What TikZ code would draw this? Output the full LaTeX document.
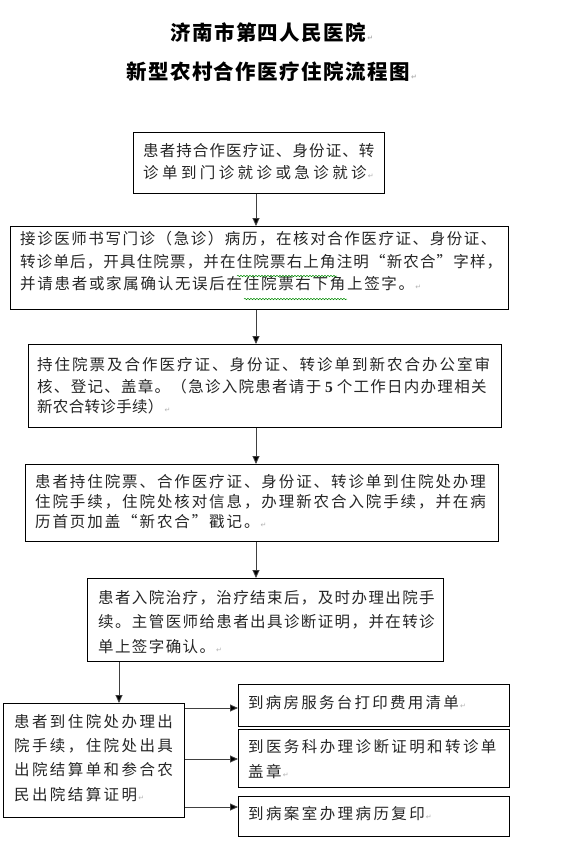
\documentclass[tikz,border=0pt]{standalone}
\usepackage{fontspec}
\setmainfont{Liberation Serif}
\newfontfamily\cjk{Noto Sans CJK SC}
\newfontfamily\symf{DejaVu Sans}
\usetikzlibrary{arrows.meta,decorations.pathmorphing}
\newcommand\pmark{{\symf\fontsize{7}{7}\selectfont\color{gray!60}\,↵}}
\tikzset{
  box/.style={draw=black, line width=0.9pt, anchor=north west, inner sep=0pt},
  ln/.style={anchor=west, inner sep=0pt, text height=12pt, text depth=2pt, text=black!85,
    font=\cjk\fontsize{15.5}{15.5}\selectfont\addfontfeature{LetterSpace=#1}},
  ttl/.style={anchor=west, inner sep=0pt, text=black,
    font=\cjk\bfseries\fontsize{20.5}{20.5}\selectfont\addfontfeature{LetterSpace=7}},
  arr/.style={draw=black!75, line width=0.9pt, -{Triangle[length=8pt,width=7pt,fill=black]}},
  wavy/.style={draw=green!55!black, line width=0.5pt, decorate,
    decoration={snake, amplitude=0.7pt, segment length=3pt}}
}
\begin{document}
\begin{tikzpicture}[x=1pt,y=-1pt]
\fill[white] (0,0) rectangle (566,865);
\useasboundingbox (0,0) rectangle (566,865);
% titles
\node[ttl] (t1) at (170,33) {济南市第四人民医院\pmark};
\node[ttl] (t2) at (126,72) {新型农村合作医疗住院流程图\pmark};
% box 1
\node[box, minimum width=251pt, minimum height=61pt] (b1) at (133,132) {};
\node[ln=7.1] (b1a) at (143,151) {患者持合作医疗证、身份证、转};
\node[ln=22] (b1b) at (143,173) {诊单到门诊就诊或急诊就诊\pmark};
% box 2
\node[box, minimum width=498pt, minimum height=83pt] (b2) at (10,226) {};
\node[ln=10.1] (b2a) at (20,239) {接诊医师书写门诊（急诊）病历，在核对合作医疗证、身份证、};
\node[ln=7.5] (b2b) at (20,262) {转诊单后，开具住院票，并在住院票右上角注明“新农合”字样，};
\node[ln=11] (b2c) at (20,284) {并请患者或家属确认无误后在住院票右下角上签字。\pmark};
\draw[wavy] (237,276) -- (337,276);
\draw[wavy] (244,299) -- (347,299);
% box 3
\node[box, minimum width=473pt, minimum height=83pt] (b3) at (28,344) {};
\node[ln=12.9] (b3a) at (37,365) {持住院票及合作医疗证、身份证、转诊单到新农合办公室审};
\node[ln=8.3] (b3b) at (37,387) {核、登记、盖章。（急诊入院患者请于{\rmfamily\bfseries\ 5\ }个工作日内办理相关};
\node[ln=2] (b3c) at (37,407) {新农合转诊手续）\pmark};
% box 4
\node[box, minimum width=473pt, minimum height=77pt] (b4) at (25,464) {};
\node[ln=12.3] (b4a) at (35,482) {患者持住院票、合作医疗证、身份证、转诊单到住院处办理};
\node[ln=12.3] (b4b) at (35,502) {住院手续，住院处核对信息，办理新农合入院手续，并在病};
\node[ln=12.3] (b4c) at (35,522) {历首页加盖“新农合”戳记。\pmark};
% box 5
\node[box, minimum width=356pt, minimum height=83pt] (b5) at (87,578) {};
\node[ln=9] (b5a) at (98,598) {患者入院治疗，治疗结束后，及时办理出院手};
\node[ln=9] (b5b) at (98,622) {续。主管医师给患者出具诊断证明，并在转诊};
\node[ln=9] (b5c) at (98,647) {单上签字确认。\pmark};
% box 6
\node[box, minimum width=181pt, minimum height=114pt] (b6) at (3,703) {};
\node[ln=15.5] (b6a) at (14,722) {患者到住院处办理出};
\node[ln=15.5] (b6b) at (14,746) {院手续，住院处出具};
\node[ln=15.5] (b6c) at (14,770) {出院结算单和参合农};
\node[ln=15.5] (b6d) at (14,795) {民出院结算证明\pmark};
% right boxes
\node[box, minimum width=271pt, minimum height=42pt] (r1) at (238,684) {};
\node[ln=14.5] (r1a) at (248,703) {到病房服务台打印费用清单\pmark};
\node[box, minimum width=271pt, minimum height=58pt] (r2) at (238,729) {};
\node[ln=15.5] (r2a) at (248,747) {到医务科办理诊断证明和转诊单};
\node[ln=15.5] (r2b) at (248,772) {盖章\pmark};
\node[box, minimum width=271pt, minimum height=40pt] (r3) at (238,796) {};
\node[ln=15.5] (r3a) at (248,814) {到病案室办理病历复印\pmark};
% connectors
\coordinate (ax) at (256,0);
\coordinate (bx) at (119,0);
\coordinate (y1) at (0,708);
\coordinate (y2) at (0,759);
\coordinate (y3) at (0,807);
\draw[arr] (b1.south -| ax) -- (b2.north -| ax);
\draw[arr] (b2.south -| ax) -- (b3.north -| ax);
\draw[arr] (b3.south -| ax) -- (b4.north -| ax);
\draw[arr] (b4.south -| ax) -- (b5.north -| ax);
\draw[arr] (b5.south -| bx) -- (b6.north -| bx);
\draw[arr] (b6.east |- y1) -- (r1.west |- y1);
\draw[arr] (b6.east |- y2) -- (r2.west |- y2);
\draw[arr] (b6.east |- y3) -- (r3.west |- y3);
\end{tikzpicture}
\end{document}
